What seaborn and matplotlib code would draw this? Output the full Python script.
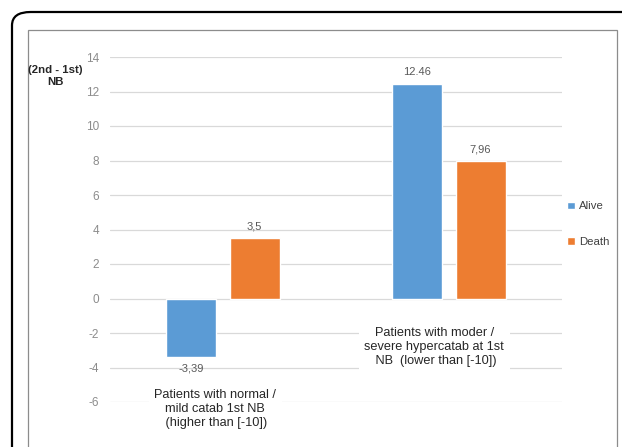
import numpy as np
import pandas as pd
import matplotlib
matplotlib.use("Agg")
import matplotlib.pyplot as plt
from matplotlib.patches import FancyBboxPatch, Rectangle
import seaborn as sns

# ------------------------------------------------------------
# data
# ------------------------------------------------------------
groups = ["normal / mild catab", "moder / severe hypercatab"]
group_labels = [
    "Patients with normal /\nmild catab 1st NB\n (higher than [-10])",
    "Patients with moder /\nsevere hypercatab at 1st\n NB  (lower than [-10])",
]
alive_vals = [-3.39, 12.46]
death_vals = [3.5, 7.96]
alive_text = ["-3,39", "12.46"]
death_text = ["3,5", "7,96"]
yticks = [-6, -4, -2, 0, 2, 4, 6, 8, 10, 12, 14]

df = pd.DataFrame({
    "group": groups * 2,
    "status": ["Alive"] * 2 + ["Death"] * 2,
    "value": alive_vals + death_vals,
})

# ------------------------------------------------------------
# figure
# ------------------------------------------------------------
sns.set_style("white")
plt.rcParams["font.family"] = ["Liberation Sans", "DejaVu Sans"]

W, H = 622, 447
fig = plt.figure(figsize=(W / 100, H / 100), dpi=100)

# outer rounded frame + inner grey frame (both run off the bottom/right)
fig.patches.append(FancyBboxPatch((12 / W, -0.2), (W + 40) / W, 1 - 12 / H + 0.2,
                                  boxstyle="round,pad=0,rounding_size=0.03",
                                  transform=fig.transFigure, fill=False,
                                  edgecolor="black", linewidth=1.6, zorder=0))
fig.patches.append(Rectangle((28 / W, -0.2), (617 - 28) / W, 1 - 30 / H + 0.2,
                             transform=fig.transFigure, fill=False,
                             edgecolor="#8c8c8c", linewidth=0.9, zorder=0))

ax = fig.add_axes([110 / W, 1 - 402 / H, 452 / W, 345 / H])
ax.set_facecolor("none")

sns.barplot(data=df, x="group", y="value", hue="status",
            palette={"Alive": "#5B9BD5", "Death": "#ED7D31"},
            saturation=1, width=0.56, gap=0.21, ax=ax, zorder=3)

ax.set_ylim(-6, 14)
ax.set_xlim(-0.5, 1.5)
ax.set_yticks(yticks)
ax.set_yticklabels([str(t) for t in yticks], color="#8c8c8c", fontsize=8.5)
ax.tick_params(axis="y", length=0, pad=8)
ax.set_xticks([])
ax.set_xlabel("")
ax.set_ylabel("")
ax.grid(axis="y", color="#d9d9d9", linewidth=0.9, zorder=0)
for s in ax.spines.values():
    s.set_visible(False)

for cont, labs in zip(ax.containers, [alive_text, death_text]):
    ax.bar_label(cont, labels=labs, padding=5, fontsize=8, color="#595959")

# category labels sitting inside the plot on white boxes
ax.text(-0.035, -6.4, group_labels[0], ha="center", va="center",
        fontsize=9.2, color="#262626", linespacing=1.2, clip_on=False,
        bbox=dict(facecolor="white", edgecolor="none", pad=4), zorder=4)
ax.text(0.935, -2.8, group_labels[1], ha="center", va="center",
        fontsize=9.2, color="#262626", linespacing=1.2, clip_on=False,
        bbox=dict(facecolor="white", edgecolor="none", pad=4), zorder=4)

# y-axis title
fig.text(55 / W, 1 - 76 / H, "(2nd - 1st)\nNB", ha="center", va="center",
         fontsize=8.2, fontweight="bold", color="#262626", linespacing=1.2)

leg = ax.legend(loc="center left", bbox_to_anchor=(561 / W, 1 - 224 / H),
                bbox_transform=fig.transFigure, frameon=False,
                handlelength=0.7, handleheight=0.7, handletextpad=0.4,
                labelspacing=2.2, fontsize=8.2, borderpad=0)
for t in leg.get_texts():
    t.set_color("#404040")

fig.savefig("out.png", dpi=100)
